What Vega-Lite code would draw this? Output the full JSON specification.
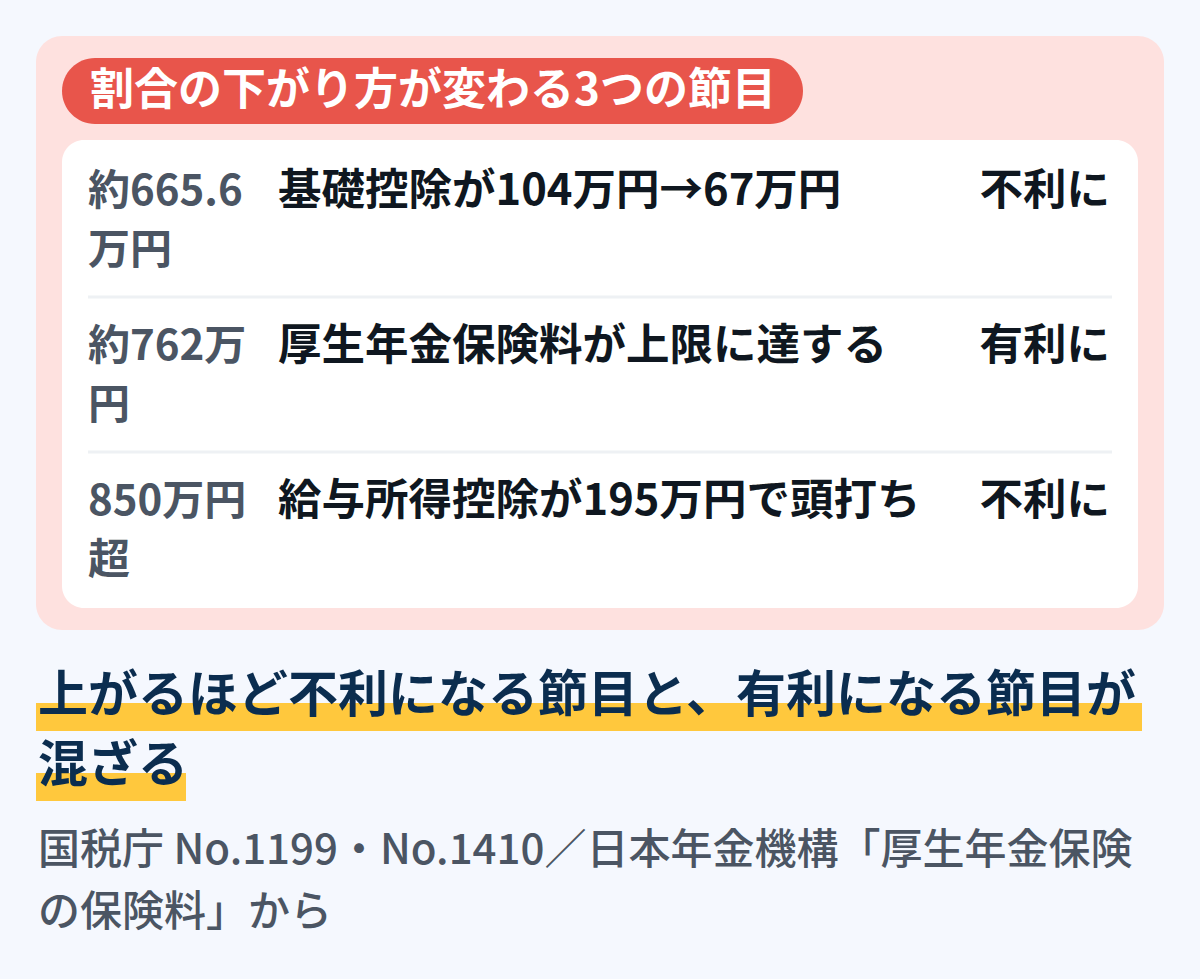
{
  "$schema": "https://vega.github.io/schema/vega-lite/v6.json",
  "width": 1200,
  "height": 979,
  "autosize": {"type": "fit", "contains": "padding"},
  "padding": 0,
  "background": "#f5f8fe",
  "config": {
    "view": {"stroke": null},
    "text": {"font": "Noto Sans CJK JP"}
  },
  "datasets": {
    "heading": [{"title": "割合の下がり方が変わる3つの節目"}],
    "rows": [
      {"row": 1, "threshold": "約665.6\n万円", "change": "基礎控除が104万円→67万円", "effect": "不利に"},
      {"row": 2, "threshold": "約762万\n円", "change": "厚生年金保険料が上限に達する", "effect": "有利に"},
      {"row": 3, "threshold": "850万円\n超", "change": "給与所得控除が195万円で頭打ち", "effect": "不利に"}
    ],
    "notes": [
      {
        "headline": "上がるほど不利になる節目と、有利になる節目が\n混ざる",
        "source": "国税庁 No.1199・No.1410／日本年金機構「厚生年金保険\nの保険料」から"
      }
    ]
  },
  "layer": [
    {
      "data": {"name": "heading"},
      "mark": {"type": "rect", "color": "#fee1df", "cornerRadius": 26},
      "encoding": {
        "x": {"value": 36}, "x2": {"value": 1164},
        "y": {"value": 36}, "y2": {"value": 630}
      }
    },
    {
      "data": {"name": "heading"},
      "mark": {"type": "rect", "color": "#ffffff", "cornerRadius": 22},
      "encoding": {
        "x": {"value": 62}, "x2": {"value": 1138},
        "y": {"value": 140}, "y2": {"value": 608}
      }
    },
    {
      "data": {"name": "heading"},
      "mark": {"type": "rect", "color": "#e8554b", "cornerRadius": 33},
      "encoding": {
        "x": {"value": 62}, "x2": {"value": 803},
        "y": {"value": 58}, "y2": {"value": 124}
      }
    },
    {
      "data": {"name": "heading"},
      "mark": {"type": "text", "align": "left", "baseline": "middle", "fontSize": 44, "fontWeight": "bold", "color": "#ffffff"},
      "encoding": {
        "x": {"value": 90}, "y": {"value": 92},
        "text": {"field": "title"}
      }
    },
    {
      "data": {"name": "rows"},
      "transform": [{"filter": "datum.row < 3"}],
      "mark": {"type": "rule", "color": "#eef1f4", "strokeWidth": 3, "yOffset": 105},
      "encoding": {
        "x": {"value": 88}, "x2": {"value": 1112},
        "y": {"field": "row", "type": "ordinal", "scale": {"type": "point", "domain": [1, 2, 3], "range": [192, 502], "padding": 0}, "axis": null}
      }
    },
    {
      "data": {"name": "rows"},
      "mark": {"type": "text", "align": "left", "baseline": "middle", "fontSize": 42, "fontWeight": 600, "color": "#4b5563", "lineBreak": "\n", "lineHeight": 59},
      "encoding": {
        "x": {"value": 88},
        "y": {"field": "row", "type": "ordinal", "scale": {"type": "point", "domain": [1, 2, 3], "range": [192, 502], "padding": 0}, "axis": null},
        "text": {"field": "threshold"}
      }
    },
    {
      "data": {"name": "rows"},
      "mark": {"type": "text", "align": "left", "baseline": "middle", "fontSize": 43.5, "fontWeight": "bold", "color": "#0f1720"},
      "encoding": {
        "x": {"value": 278},
        "y": {"field": "row", "type": "ordinal", "scale": {"type": "point", "domain": [1, 2, 3], "range": [192, 502], "padding": 0}, "axis": null},
        "text": {"field": "change"}
      }
    },
    {
      "data": {"name": "rows"},
      "mark": {"type": "text", "align": "right", "baseline": "middle", "fontSize": 43.5, "fontWeight": "bold", "color": "#0f1720"},
      "encoding": {
        "x": {"value": 1110},
        "y": {"field": "row", "type": "ordinal", "scale": {"type": "point", "domain": [1, 2, 3], "range": [192, 502], "padding": 0}, "axis": null},
        "text": {"field": "effect"}
      }
    },
    {
      "data": {"name": "notes"},
      "mark": {"type": "rect", "color": "#ffc83d"},
      "encoding": {
        "x": {"value": 36}, "x2": {"value": 1142},
        "y": {"value": 703}, "y2": {"value": 731}
      }
    },
    {
      "data": {"name": "notes"},
      "mark": {"type": "rect", "color": "#ffc83d"},
      "encoding": {
        "x": {"value": 36}, "x2": {"value": 186},
        "y": {"value": 773}, "y2": {"value": 801}
      }
    },
    {
      "data": {"name": "notes"},
      "mark": {"type": "text", "align": "left", "baseline": "middle", "fontSize": 50, "fontWeight": "bold", "color": "#0b2d4f", "lineBreak": "\n", "lineHeight": 70},
      "encoding": {
        "x": {"value": 38}, "y": {"value": 697},
        "text": {"field": "headline"}
      }
    },
    {
      "data": {"name": "notes"},
      "mark": {"type": "text", "align": "left", "baseline": "middle", "fontSize": 42, "fontWeight": 500, "color": "#4b5563", "lineBreak": "\n", "lineHeight": 62},
      "encoding": {
        "x": {"value": 38}, "y": {"value": 851},
        "text": {"field": "source"}
      }
    }
  ]
}
